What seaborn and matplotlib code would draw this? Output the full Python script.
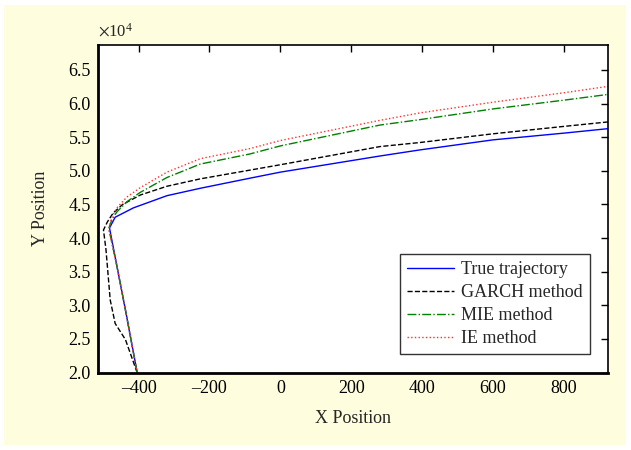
import numpy as np
import pandas as pd
import seaborn as sns
import matplotlib.pyplot as plt
from matplotlib.patches import Rectangle

sns.set_style('white')
plt.rcParams['font.family'] = ['Liberation Serif', 'DejaVu Serif']
plt.rcParams['mathtext.fontset'] = 'stix'

# trajectories (y in units of 1e4)
true_x = [-404, -437, -461, -482, -466, -414, -320, -226, -86, 0, 281, 393, 600, 800, 931]
true_y = [2.0, 2.93, 3.58, 4.15, 4.31, 4.45, 4.63, 4.74, 4.89, 4.98, 5.22, 5.31, 5.46, 5.56, 5.63]

garch_x = [-404, -437, -466, -480, -492, -499, -488, -472, -445, -395, -320, -226, -86, 0, 281, 393, 600, 800, 931]
garch_y = [2.0, 2.49, 2.73, 3.08, 3.83, 4.12, 4.24, 4.37, 4.50, 4.64, 4.77, 4.88, 5.01, 5.09, 5.36, 5.42, 5.55, 5.66, 5.73]

mie_x = [-404, -437, -461, -484, -475, -461, -433, -395, -320, -226, -86, 0, 281, 393, 600, 800, 931]
mie_y = [2.0, 2.93, 3.58, 4.14, 4.28, 4.39, 4.54, 4.68, 4.90, 5.10, 5.25, 5.37, 5.68, 5.76, 5.92, 6.05, 6.14]

ie_x = [-404, -437, -461, -484, -475, -461, -433, -395, -320, -226, -86, 0, 281, 393, 600, 800, 931]
ie_y = [2.0, 2.93, 3.58, 4.14, 4.32, 4.45, 4.61, 4.75, 4.98, 5.18, 5.33, 5.45, 5.75, 5.86, 6.02, 6.16, 6.26]

series = [
    ('True trajectory', true_x, true_y, '#0000FF', '-'),
    ('GARCH method', garch_x, garch_y, 'black', '--'),
    ('MIE method', mie_x, mie_y, '#008000', '-.'),
    ('IE method', ie_x, ie_y, '#FF3030', ':'),
]

fig = plt.figure(figsize=(6.31, 4.5), dpi=100, facecolor='white')
fig.patches.append(Rectangle((4/631, 5/450), 622/631, 440/450, transform=fig.transFigure,
                             facecolor='#FEFEDF', edgecolor='none', zorder=-10))
ax = fig.add_axes([0.155, 0.172, 0.809, 0.728])
ax.set_facecolor('white')

for name, xs, ys, col, ls in series:
    df = pd.DataFrame({'x': xs, 'y': ys})
    sns.lineplot(data=df, x='x', y='y', sort=False, estimator=None, ax=ax,
                 color=col, linestyle=ls, lw=1.0, label=name)

ax.set_xlim(-515, 925)
ax.set_ylim(2.0, 6.87)
ax.set_xticks(np.arange(-400, 801, 200))
ax.set_xticklabels(['\u2013400', '\u2013200', '0', '200', '400', '600', '800'])
ax.set_yticks(np.arange(2.0, 6.51, 0.5))
ax.set_yticklabels([f'{v:.1f}' for v in np.arange(2.0, 6.51, 0.5)])
ax.tick_params(direction='in', length=5, width=1, top=True, right=True,
               labelsize=13, colors='black', pad=5)
for s in ax.spines.values():
    s.set_visible(True)
    s.set_color('black')
    s.set_linewidth(1.2)
ax.spines['left'].set_linewidth(2)
ax.spines['bottom'].set_linewidth(2)

ax.set_xlabel('X Position', fontsize=13, labelpad=10)
ax.set_ylabel('Y Position', fontsize=13, labelpad=14)
ax.text(0, 1.015, r'$\times\mathregular{10^4}$', transform=ax.transAxes,
        fontsize=12, ha='left', va='bottom')

leg = ax.legend(loc='lower right', bbox_to_anchor=(0.975, 0.04), fontsize=13,
                frameon=True, fancybox=False, handlelength=2.6, borderpad=0.4,
                labelspacing=0.33, handletextpad=0.4, borderaxespad=0.3)
leg.get_frame().set_edgecolor('black')
leg.get_frame().set_linewidth(1)

fig.savefig('out.png', dpi=100, facecolor='white')
